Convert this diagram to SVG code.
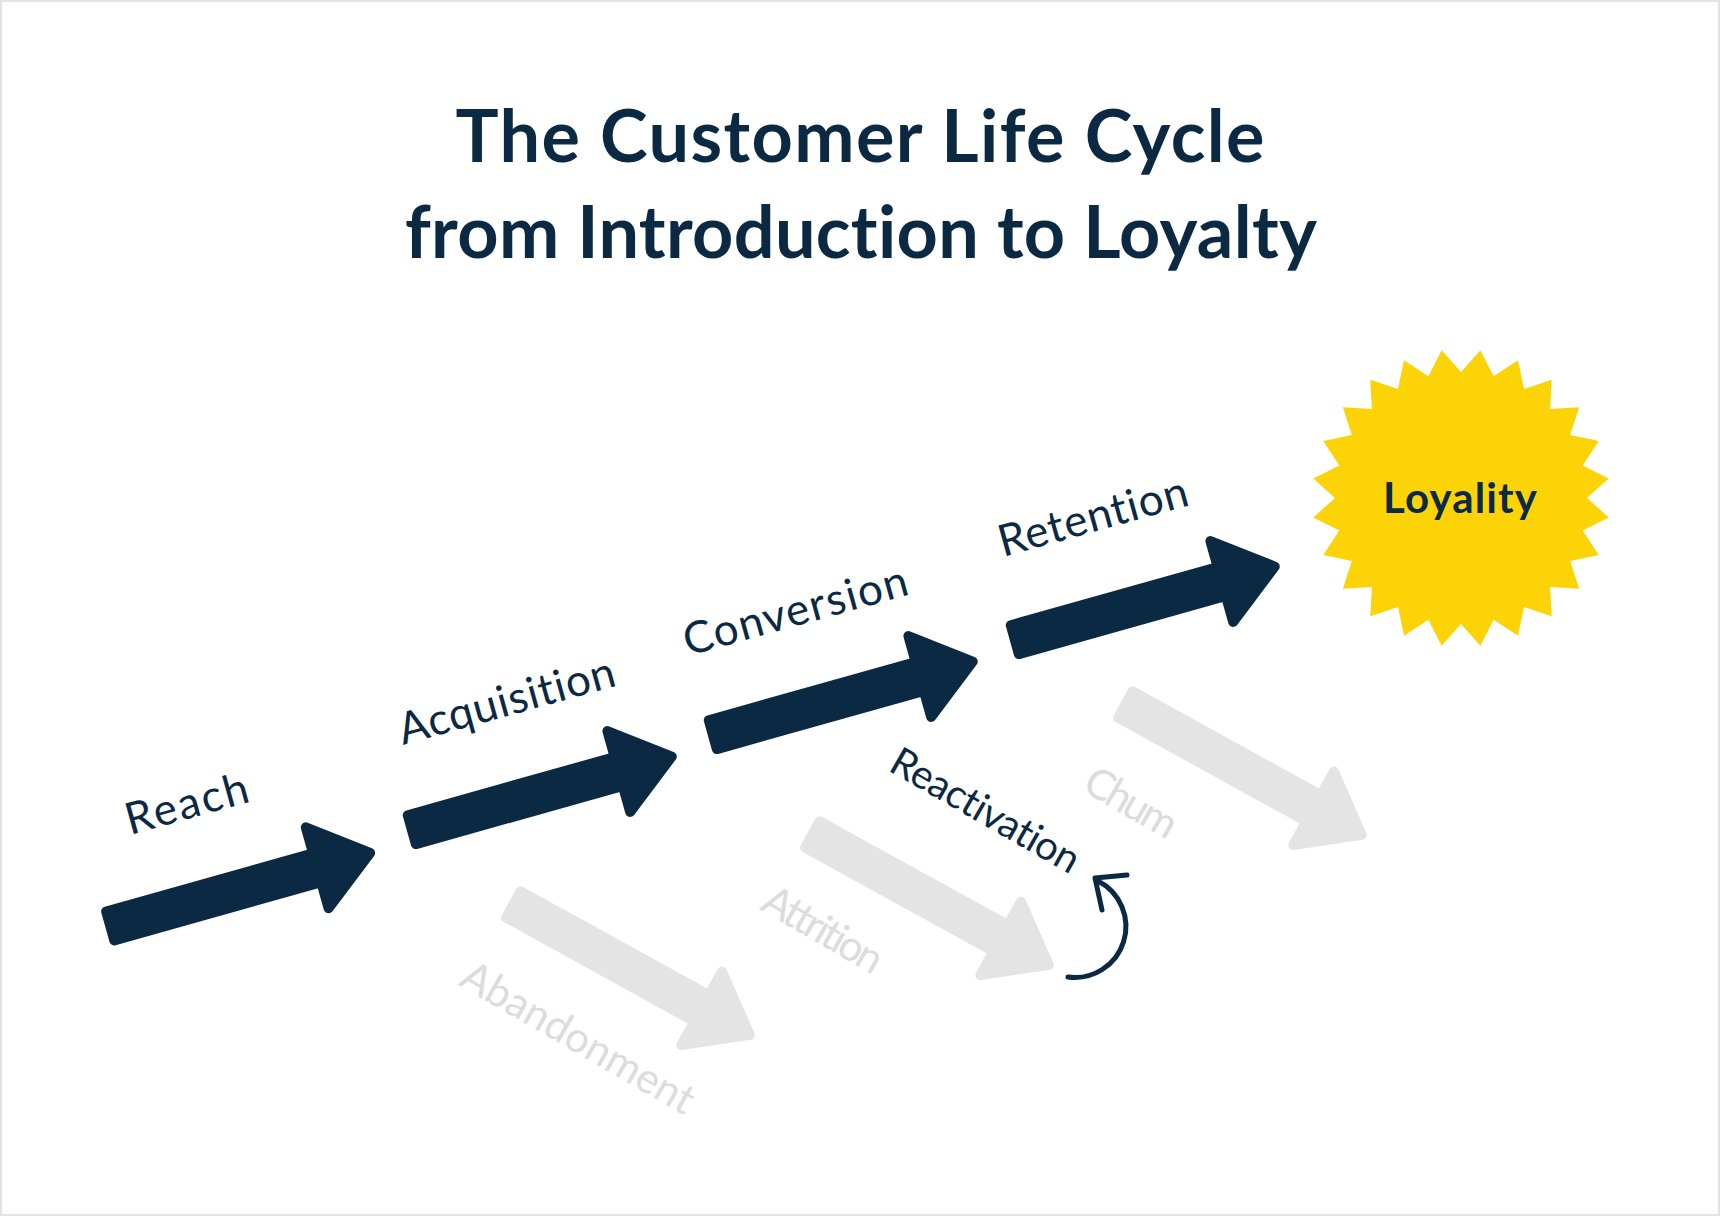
<svg xmlns="http://www.w3.org/2000/svg" width="1720" height="1216" viewBox="0 0 1720 1216">
  <style>
    text { font-variant-ligatures: none; font-feature-settings: "liga" 0, "clig" 0, "dlig" 0; }
    .title { font-family: "Lato", "Liberation Sans", sans-serif; font-weight: 700; font-size: 72px; fill: #0b2942; }
    .lbl { font-family: "Lato", "Liberation Sans", sans-serif; font-weight: 400; font-size: 44px; fill: #0b2942; }
    .lbl-sm { font-family: "Lato", "Liberation Sans", sans-serif; font-weight: 400; font-size: 40px; fill: #0b2942; }
    .ghost { font-family: "Lato", "Liberation Sans", sans-serif; font-weight: 400; font-size: 42px; fill: #dcdcdc; }
    .arrow-main { fill: #0b2942; stroke: #0b2942; stroke-width: 10; stroke-linejoin: round; }
    .arrow-ghost { fill: #e4e4e4; stroke: #e4e4e4; stroke-width: 10; stroke-linejoin: round; }
    .loop { fill: none; stroke: #0b2942; stroke-width: 5; stroke-linecap: round; stroke-linejoin: round; }
    .badge-text { font-family: "Lato", "Liberation Sans", sans-serif; font-weight: 700; font-size: 42px; fill: #0b2942; }
  </style>
  <defs>
    <path id="arrowShape" d="M5,-15 L220,-15 L220,-42 L275,0 L220,42 L220,15 L5,15 Z"/>
  </defs>
  <rect x="1" y="1" width="1718" height="1214" fill="#ffffff" stroke="#e2e2e2" stroke-width="2"/>

  <g id="title">
    <text class="title" x="860" y="162" text-anchor="middle" textLength="809" lengthAdjust="spacing">The Customer Life Cycle</text>
    <text class="title" x="861" y="258" text-anchor="middle" textLength="912" lengthAdjust="spacing">from Introduction to Loyalty</text>
  </g>

  <g id="reach">
    <use href="#arrowShape" class="arrow-main" transform="translate(105.4,927.3) rotate(-15.7)"/>
    <text class="lbl" transform="translate(130,835) rotate(-15.5)" textLength="126" lengthAdjust="spacing">Reach</text>
  </g>
  <g id="acquisition">
    <use href="#arrowShape" class="arrow-main" transform="translate(407,831) rotate(-15.7)"/>
    <text class="lbl" transform="translate(403,745) rotate(-15.5)" textLength="223" lengthAdjust="spacing">Acquisition</text>
  </g>
  <g id="conversion">
    <use href="#arrowShape" class="arrow-main" transform="translate(708,736) rotate(-15.7)"/>
    <text class="lbl" transform="translate(688,656) rotate(-15.5)" textLength="231" lengthAdjust="spacing">Conversion</text>
  </g>
  <g id="retention">
    <use href="#arrowShape" class="arrow-main" transform="translate(1010,641) rotate(-15.7)"/>
    <text class="lbl" transform="translate(1003,557) rotate(-15.5)" textLength="195" lengthAdjust="spacing">Retention</text>
  </g>

  <g id="loyalty">
    <polygon fill="#fcd307" points="1461,372 1480.4,350.3 1493.6,376.3 1518,360.3 1524,388.9 1551.7,379.8 1550.1,408.9 1579.2,407.3 1570.1,435 1598.7,441 1582.7,465.4 1608.7,478.6 1587,498 1608.7,517.4 1582.7,530.6 1598.7,555 1570.1,561 1579.2,588.7 1550.1,587.1 1551.7,616.2 1524,607.1 1518,635.7 1493.6,619.7 1480.4,645.7 1461,624 1441.6,645.7 1428.4,619.7 1404,635.7 1398,607.1 1370.3,616.2 1371.9,587.1 1342.8,588.7 1351.9,561 1323.3,555 1339.3,530.6 1313.3,517.4 1335,498 1313.3,478.6 1339.3,465.4 1323.3,441 1351.9,435 1342.8,407.3 1371.9,408.9 1370.3,379.8 1398,388.9 1404,360.3 1428.4,376.3 1441.6,350.3"/>
    <text class="badge-text" x="1460" y="513" text-anchor="middle" textLength="154" lengthAdjust="spacing">Loyality</text>
  </g>

  <g id="abandonment">
    <use href="#arrowShape" class="arrow-ghost" transform="translate(509,902) rotate(28.9)"/>
    <text class="ghost" transform="translate(578,1038) rotate(30)" x="0" y="14" text-anchor="middle" textLength="262" lengthAdjust="spacing">Abandonment</text>
  </g>
  <g id="attrition">
    <use href="#arrowShape" class="arrow-ghost" transform="translate(808,832) rotate(28.9)"/>
    <text class="ghost" transform="translate(823,930) rotate(30)" x="0" y="14" text-anchor="middle" textLength="132" lengthAdjust="spacing">Attrition</text>
  </g>
  <g id="churn">
    <use href="#arrowShape" class="arrow-ghost" transform="translate(1121,702) rotate(28.9)"/>
    <text class="ghost" transform="translate(1131,803) rotate(30)" x="0" y="14" text-anchor="middle" textLength="100" lengthAdjust="spacing">Chum</text>
  </g>
  <g id="reactivation">
    <text class="lbl-sm" transform="translate(887,770) rotate(29.7)" textLength="211" lengthAdjust="spacing">Reactivation</text>
  </g>

  <g id="connectors">
    <path class="loop" d="M1068,977 A51,51 0 0 0 1098,881"/>
    <path class="loop" d="M1127,875 L1095,878 L1102,910"/>
  </g>
</svg>
